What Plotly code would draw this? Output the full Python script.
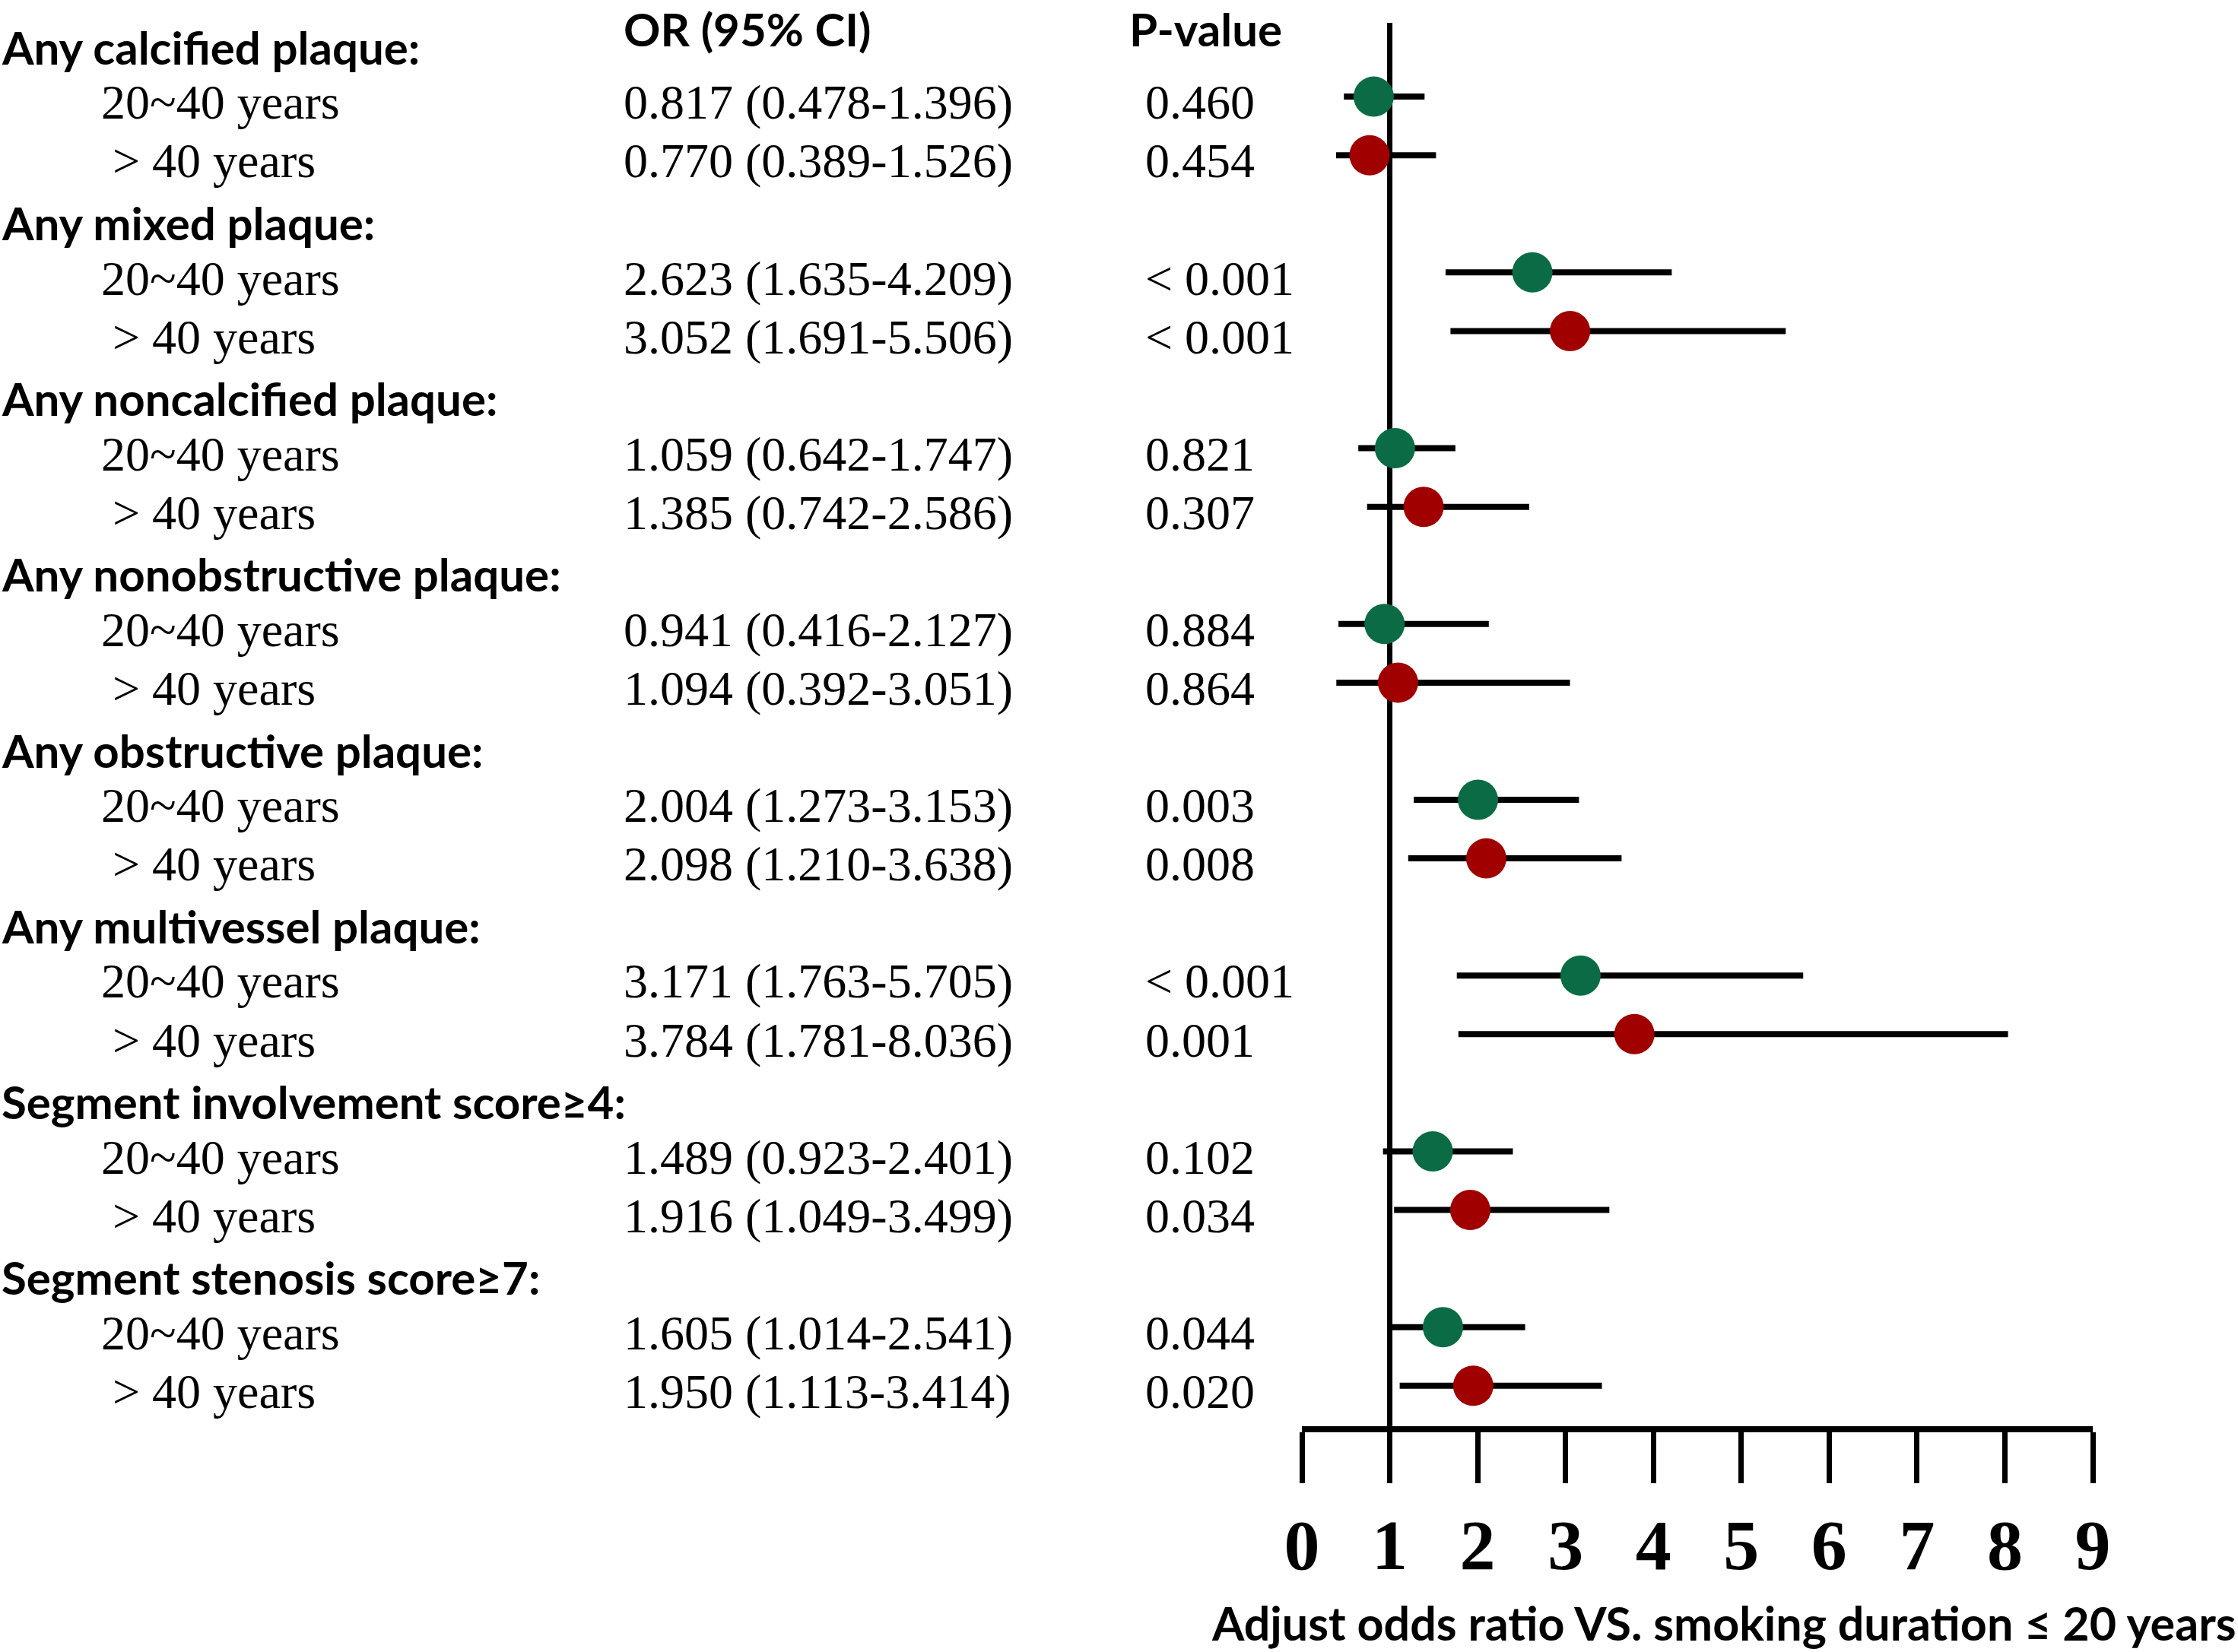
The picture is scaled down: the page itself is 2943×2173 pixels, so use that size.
import plotly.graph_objects as go

# groups of outcomes, two smoking-duration strata each
groups = ["Any calcified plaque:", "Any mixed plaque:", "Any noncalcified plaque:",
          "Any nonobstructive plaque:", "Any obstructive plaque:", "Any multivessel plaque:",
          "Segment involvement score\u22654:", "Segment stenosis score\u22657:"]
strata = ["20~40 years", "> 40 years"]

# odds ratios, [20~40 years, > 40 years] per group
or_val = [[0.817, 0.770], [2.623, 3.052], [1.059, 1.385], [0.941, 1.094],
          [2.004, 2.098], [3.171, 3.784], [1.489, 1.916], [1.605, 1.950]]
ci_low = [[0.478, 0.389], [1.635, 1.691], [0.642, 0.742], [0.416, 0.392],
          [1.273, 1.210], [1.763, 1.781], [0.923, 1.049], [1.014, 1.113]]
ci_high = [[1.396, 1.526], [4.209, 5.506], [1.747, 2.586], [2.127, 3.051],
           [3.153, 3.638], [5.705, 8.036], [2.401, 3.499], [2.541, 3.414]]
p_val = [["0.460", "0.454"], ["< 0.001", "< 0.001"], ["0.821", "0.307"], ["0.884", "0.864"],
         ["0.003", "0.008"], ["< 0.001", "0.001"], ["0.102", "0.034"], ["0.044", "0.020"]]

x_ticks = list(range(0, 10))
colors = ["#0b6b45", "#a00000"]

SERIF = "Liberation Serif, Times New Roman, serif"
SANS = "Lato, Open Sans, sans-serif"

fig = go.Figure()

# y position of a row: 3 rows per group (heading, stratum 1, stratum 2)
def row_y(g, s):
    return 3 * g + 1 + s

for s in range(2):
    xs = [or_val[g][s] for g in range(len(groups))]
    ys = [row_y(g, s) for g in range(len(groups))]
    plus = [ci_high[g][s] - or_val[g][s] for g in range(len(groups))]
    minus = [or_val[g][s] - ci_low[g][s] for g in range(len(groups))]
    fig.add_trace(go.Scatter(
        x=xs, y=ys, mode="markers",
        marker=dict(size=53, color=colors[s], line=dict(width=0)),
        error_x=dict(type="data", array=plus, arrayminus=minus, symmetric=False,
                     color="black", thickness=8, width=0),
        showlegend=False, cliponaxis=False))

# reference line at OR = 1
fig.add_shape(type="line", xref="x", yref="y domain", x0=1, x1=1, y0=0, y1=1,
              line=dict(color="black", width=7), layer="below")

ann = []
for g, name in enumerate(groups):
    ann.append(dict(text=name, x=0.0, y=3 * g + 0.15,
                    font=dict(family=SANS, size=60, weight="bold")))
    for s in range(2):
        y = row_y(g, s) + 0.1
        ann.append(dict(text=strata[s], x=0.0446 if s == 0 else 0.0497, y=y,
                        font=dict(family=SERIF, size=64)))
        txt = "%.3f (%.3f-%.3f)" % (or_val[g][s], ci_low[g][s], ci_high[g][s])
        ann.append(dict(text=txt, x=0.278, y=y, font=dict(family=SERIF, size=64)))
        ann.append(dict(text=p_val[g][s], x=0.511, y=y, font=dict(family=SERIF, size=64)))
for a in ann:
    a.update(xref="paper", yref="y", xanchor="left", yanchor="middle",
             showarrow=False, font_color="black")

# column headers
for label, xp in [("OR (95% CI)", 0.278), ("P-value", 0.504)]:
    ann.append(dict(text=label, xref="paper", yref="paper", x=xp, y=1.0,
                    xanchor="left", yanchor="top", showarrow=False,
                    font=dict(family=SANS, size=60, weight="bold", color="black")))

ann.append(dict(text="Adjust odds ratio VS. smoking duration \u2264 20 years",
                xref="paper", yref="paper", x=1.0, y=0.0,
                xanchor="right", yanchor="bottom", showarrow=False,
                font=dict(family=SANS, size=61, weight="bold", color="black")))

fig.update_layout(
    width=2943, height=2173,
    margin=dict(l=0, r=0, t=0, b=0),
    paper_bgcolor="white", plot_bgcolor="white",
    annotations=ann,
    xaxis=dict(domain=[1712 / 2943, 2752 / 2943], range=[0, 9],
               tickvals=x_ticks, ticktext=[str(t) for t in x_ticks],
               showgrid=False, zeroline=False, showline=True, linewidth=8, linecolor="black",
               ticks="outside", ticklen=67, tickwidth=7, tickcolor="black",
               ticklabelstandoff=0,
               tickfont=dict(family=SERIF, size=94, weight="bold", color="black"),
               automargin=False, fixedrange=True),
    yaxis=dict(domain=[1 - 1876 / 2173, 1 - 30 / 2173], range=[23.69, -0.26],
               visible=False, showgrid=False, zeroline=False, automargin=False),
)

fig.write_html("out.html", config={"displayModeBar": False},
               post_script="document.body.style.margin='0px';")
